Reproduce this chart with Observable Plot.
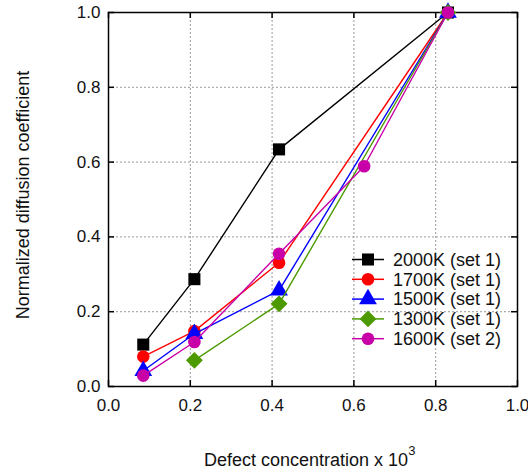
<!DOCTYPE html>
<html>
<head>
<meta charset="utf-8">
<script src="https://cdn.jsdelivr.net/npm/d3@7"></script>
<script src="https://cdn.jsdelivr.net/npm/@observablehq/plot@0.6"></script>
<style>
  html, body { margin: 0; padding: 0; background: #fff; }
  #chart { width: 528px; height: 470px; }
  svg { font-family: "Liberation Sans", Arial, sans-serif; }
</style>
</head>
<body>
<div id="chart"></div>
<script>
// ---- data ----
const seriesNames = ["2000K (set 1)", "1700K (set 1)", "1500K (set 1)", "1300K (set 1)", "1600K (set 2)"];
const seriesColors = ["#000000", "#ff0000", "#0000ff", "#4c9a00", "#c800a8"];
const seriesSymbols = ["square", "circle", "triangle", "diamond2", "circle"];
const seriesR = [6.8, 6.3, 6.6, 7.6, 6.3];

const xSet1 = [0.085, 0.21, 0.417, 0.83];
const x1300 = [0.21, 0.417, 0.83];
const xSet2 = [0.085, 0.21, 0.417, 0.625, 0.83];

const y2000 = [0.112, 0.287, 0.634, 1.0];
const y1700 = [0.080, 0.148, 0.331, 1.0];
const y1500 = [0.042, 0.141, 0.257, 1.0];
const y1300 = [0.070, 0.221, 1.0];
const y1600 = [0.029, 0.119, 0.355, 0.589, 1.0];

const xTicks = [0, 0.2, 0.4, 0.6, 0.8, 1.0];
const yTicks = [0, 0.2, 0.4, 0.6, 0.8, 1.0];
const gridTicks = [0.2, 0.4, 0.6, 0.8];

const xTitle = "Defect concentration x 10";
const xTitleSup = "3";
const yTitle = "Normalized diffusion coefficient";

// ---- build table ----
const seriesX = [xSet1, xSet1, xSet1, x1300, xSet2];
const seriesY = [y2000, y1700, y1500, y1300, y1600];
const rows = seriesNames.map((name, i) =>
  seriesX[i].map((x, j) => ({series: name, x, y: seriesY[i][j]})));

const W = 528, H = 470;
const mL = 108, mR = 11, mT = 12, mB = 84;
const innerW = W - mL - mR, innerH = H - mT - mB;
const tick = 6;

const marks = [
  Plot.gridX(gridTicks, {stroke: "#9a9a9a", strokeOpacity: 1, strokeDasharray: "2,2", strokeWidth: 1}),
  Plot.gridY(gridTicks, {stroke: "#9a9a9a", strokeOpacity: 1, strokeDasharray: "2,2", strokeWidth: 1}),
  // inward ticks on all four sides
  Plot.ruleX(xTicks, {insetTop: innerH - tick, stroke: "black", strokeWidth: 1.5}),
  Plot.ruleX(xTicks, {insetBottom: innerH - tick, stroke: "black", strokeWidth: 1.5}),
  Plot.ruleY(yTicks, {insetRight: innerW - tick, stroke: "black", strokeWidth: 1.5}),
  Plot.ruleY(yTicks, {insetLeft: innerW - tick, stroke: "black", strokeWidth: 1.5}),
  Plot.axisX(xTicks, {tickSize: 0, tickPadding: 12, tickFormat: d3.format(".1f"), fontSize: 17, label: null, fill: "#111"}),
  Plot.axisY(yTicks, {tickSize: 0, tickPadding: 8, tickFormat: d3.format(".1f"), fontSize: 17, label: null, fill: "#111"}),
  Plot.frame({stroke: "black", strokeWidth: 1.5})
];
rows.forEach((data, i) => {
  marks.push(Plot.line(data, {x: "x", y: "y", stroke: seriesColors[i], strokeWidth: 1.4}));
  marks.push(Plot.dot(data, {x: "x", y: "y", symbol: () => seriesSymbols[i], fill: seriesColors[i], stroke: "none", r: seriesR[i]}));
});

const plot = Plot.plot({
  width: W, height: H,
  marginLeft: mL, marginRight: mR, marginTop: mT, marginBottom: mB,
  x: {domain: [0, 1]},
  y: {domain: [0, 1]},
  symbol: {type: "identity"},
  style: {fontFamily: "Liberation Sans, Arial, sans-serif", background: "white"},
  marks
});
document.getElementById("chart").appendChild(plot);

const svg = d3.select(plot);

// axis titles
const xt = svg.append("text")
  .attr("x", 204).attr("y", 466)
  .attr("text-anchor", "start")
  .attr("font-size", 18).attr("fill", "#111")
  .text(xTitle);
xt.append("tspan").attr("dy", -11).attr("font-size", 13).text(xTitleSup);

svg.append("text")
  .attr("transform", `translate(29, 195) rotate(-90)`)
  .attr("text-anchor", "middle")
  .attr("font-size", 18).attr("fill", "#111")
  .text(yTitle);

// legend
const symMap = {square: d3.symbolSquare, circle: d3.symbolCircle, triangle: d3.symbolTriangle, diamond2: d3.symbolDiamond2};
const lg = svg.append("g").attr("text-anchor", "start");
seriesNames.forEach((name, i) => {
  const yy = 259.5 + i * 19.8;
  lg.append("line").attr("x1", 352).attr("x2", 384).attr("y1", yy).attr("y2", yy)
    .attr("stroke", seriesColors[i]).attr("stroke-width", 1.5);
  lg.append("path")
    .attr("d", d3.symbol(symMap[seriesSymbols[i]], Math.PI * seriesR[i] * seriesR[i])())
    .attr("transform", `translate(368, ${yy})`)
    .attr("fill", seriesColors[i]);
  lg.append("text").attr("x", 393).attr("y", yy).attr("dy", "0.35em")
    .attr("text-anchor", "start")
    .attr("font-size", 18).attr("fill", "#111").text(name);
});
</script>
</body>
</html>
